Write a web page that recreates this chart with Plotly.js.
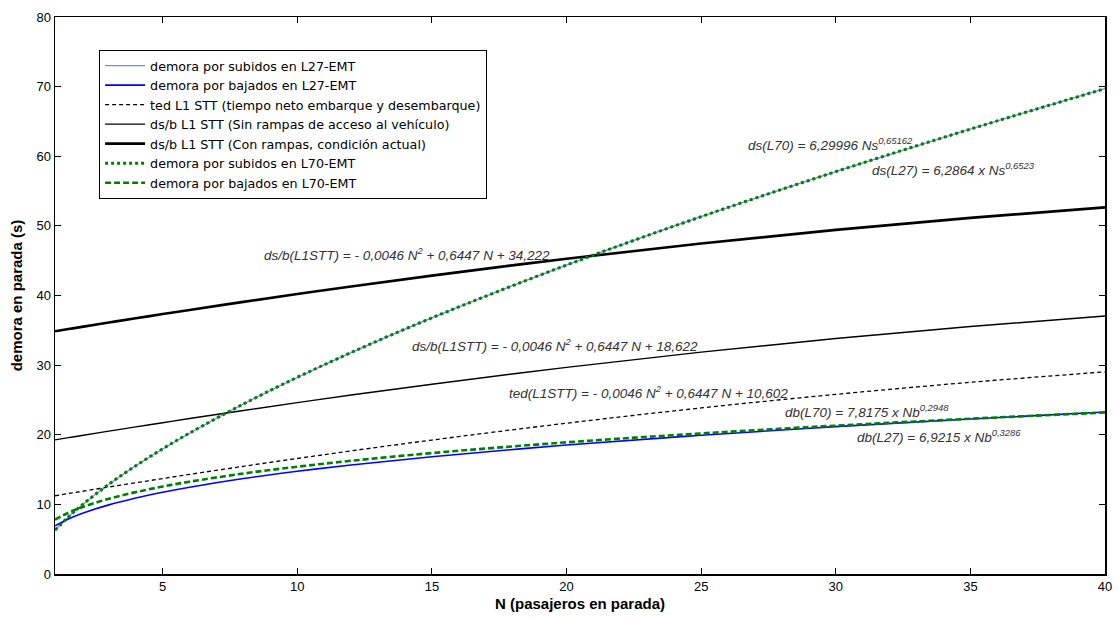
<!DOCTYPE html>
<html>
<head>
<meta charset="utf-8">
<script src="https://cdn.plot.ly/plotly-3.0.1.min.js"></script>
<style>html,body{margin:0;padding:0;background:#fff;}#chart{width:1118px;height:617px;}</style>
</head>
<body>
<div id="chart"></div>
<script>
// N (pasajeros en parada)
var N = [1, 1.5, 2, 3, 4, 5, 6, 8, 10, 12, 15, 20, 25, 30, 35, 40];
// demoras (s)
var subidosL27 = [6.29, 8.19, 9.88, 12.87, 15.53, 17.96, 20.23, 24.41, 28.23, 31.79, 36.78, 44.37, 51.32, 57.80, 63.91, 69.73];
var bajadosL27 = [6.92, 7.91, 8.69, 9.93, 10.92, 11.75, 12.47, 13.71, 14.75, 15.66, 16.85, 18.52, 19.93, 21.16, 22.26, 23.26];
var tedL1STT = [11.24, 11.56, 11.87, 12.50, 13.11, 13.71, 14.31, 15.47, 16.59, 17.68, 19.24, 21.66, 23.85, 25.80, 27.53, 29.03];
var sinRampas = [19.26, 19.58, 19.89, 20.52, 21.13, 21.73, 22.33, 23.49, 24.61, 25.70, 27.26, 29.68, 31.87, 33.82, 35.55, 37.05];
var conRampas = [34.86, 35.18, 35.49, 36.12, 36.73, 37.33, 37.93, 39.09, 40.21, 41.30, 42.86, 45.28, 47.47, 49.42, 51.15, 52.65];
var subidosL70 = [6.30, 8.21, 9.90, 12.89, 15.55, 17.98, 20.25, 24.42, 28.25, 31.81, 36.79, 44.37, 51.32, 57.79, 63.90, 69.71];
var bajadosL70 = [7.82, 8.81, 9.59, 10.81, 11.76, 12.56, 13.26, 14.43, 15.41, 16.26, 17.37, 18.91, 20.19, 21.31, 22.30, 23.19];

var names = [
  'demora por subidos en L27-EMT',
  'demora por bajados en L27-EMT',
  'ted L1 STT (tiempo neto embarque y desembarque)',
  'ds/b L1 STT (Sin rampas de acceso al vehículo)',
  'ds/b L1 STT (Con rampas, condición actual)',
  'demora por subidos en L70-EMT',
  'demora por bajados en L70-EMT'
];
var xTicks = [5, 10, 15, 20, 25, 30, 35, 40];
var yTicks = [0, 10, 20, 30, 40, 50, 60, 70, 80];

function tr(y, name, color, width, dash) {
  return {x: N, y: y, name: name, type: 'scatter', mode: 'lines',
    line: {color: color, width: width, dash: dash, shape: 'spline', smoothing: 1}};
}
var data = [
  tr(subidosL27, names[0], '#7f7fff', 1.2, 'solid'),
  tr(bajadosL27, names[1], '#0000ff', 1.6, 'solid'),
  tr(tedL1STT, names[2], '#000000', 1.3, '4px,3px'),
  tr(sinRampas, names[3], '#000000', 1.4, 'solid'),
  tr(conRampas, names[4], '#000000', 2.6, 'solid'),
  tr(subidosL70, names[5], '#008000', 3, 'dot'),
  tr(bajadosL70, names[6], '#008000', 2.6, '6px,3px')
];

var annFont = {family: 'Liberation Sans, Arial, sans-serif', size: 13.5, color: '#333333'};
function ann(x, y, text) {
  return {x: x, y: y, xref: 'x', yref: 'y', text: '<i>' + text + '</i>', showarrow: false,
    xanchor: 'left', yanchor: 'middle', font: annFont};
}

var layout = {
  width: 1118, height: 617,
  margin: {l: 55, r: 13, t: 17, b: 43},
  paper_bgcolor: '#ffffff', plot_bgcolor: '#ffffff',
  showlegend: true,
  font: {family: 'Liberation Sans, Arial, sans-serif', size: 13, color: '#000'},
  xaxis: {
    range: [1, 40], tickvals: xTicks, ticks: 'inside', ticklen: 6, tickcolor: '#000',
    showline: true, linecolor: '#000', linewidth: 1.5, mirror: 'ticks', showgrid: false, zeroline: false,
    tickfont: {size: 13},
    title: {text: '<b>N (pasajeros en parada)</b>', font: {size: 15}, standoff: 5}
  },
  yaxis: {
    range: [0, 80], tickvals: yTicks, ticks: 'inside', ticklen: 6, tickcolor: '#000',
    showline: true, linecolor: '#000', linewidth: 1.5, mirror: 'ticks', showgrid: false, zeroline: false,
    tickfont: {size: 13},
    title: {text: '<b>demora en parada (s)</b>', font: {size: 15}, standoff: 10}
  },
  legend: {
    x: 0.042, y: 0.941, xanchor: 'left', yanchor: 'top',
    bgcolor: '#ffffff', bordercolor: '#000', borderwidth: 1,
    font: {family: 'DejaVu Sans, sans-serif', size: 12.7, color: '#000'},
    tracegroupgap: 0, itemwidth: 40
  },
  annotations: [
    ann(26.67, 61.8, 'ds(L70) = 6,29996 Ns<sup>0,65162</sup>'),
    ann(31.27, 58.2, 'ds(L27) = 6,2864 x Ns<sup>0,6523</sup>'),
    ann(8.69, 46.0, 'ds/b(L1STT) = - 0,0046 N<sup>2</sup> + 0,6447 N + 34,222'),
    ann(14.19, 32.95, 'ds/b(L1STT) = - 0,0046 N<sup>2</sup> + 0,6447 N + 18,622'),
    ann(17.79, 26.2, 'ted(L1STT) = - 0,0046 N<sup>2</sup> + 0,6447 N + 10,602'),
    ann(28.04, 23.45, 'db(L70) = 7,8175 x Nb<sup>0,2948</sup>'),
    ann(30.71, 19.85, 'db(L27) = 6,9215 x Nb<sup>0,3286</sup>')
  ]
};
Plotly.newPlot('chart', data, layout, {displayModeBar: false, staticPlot: true});
</script>
</body>
</html>
